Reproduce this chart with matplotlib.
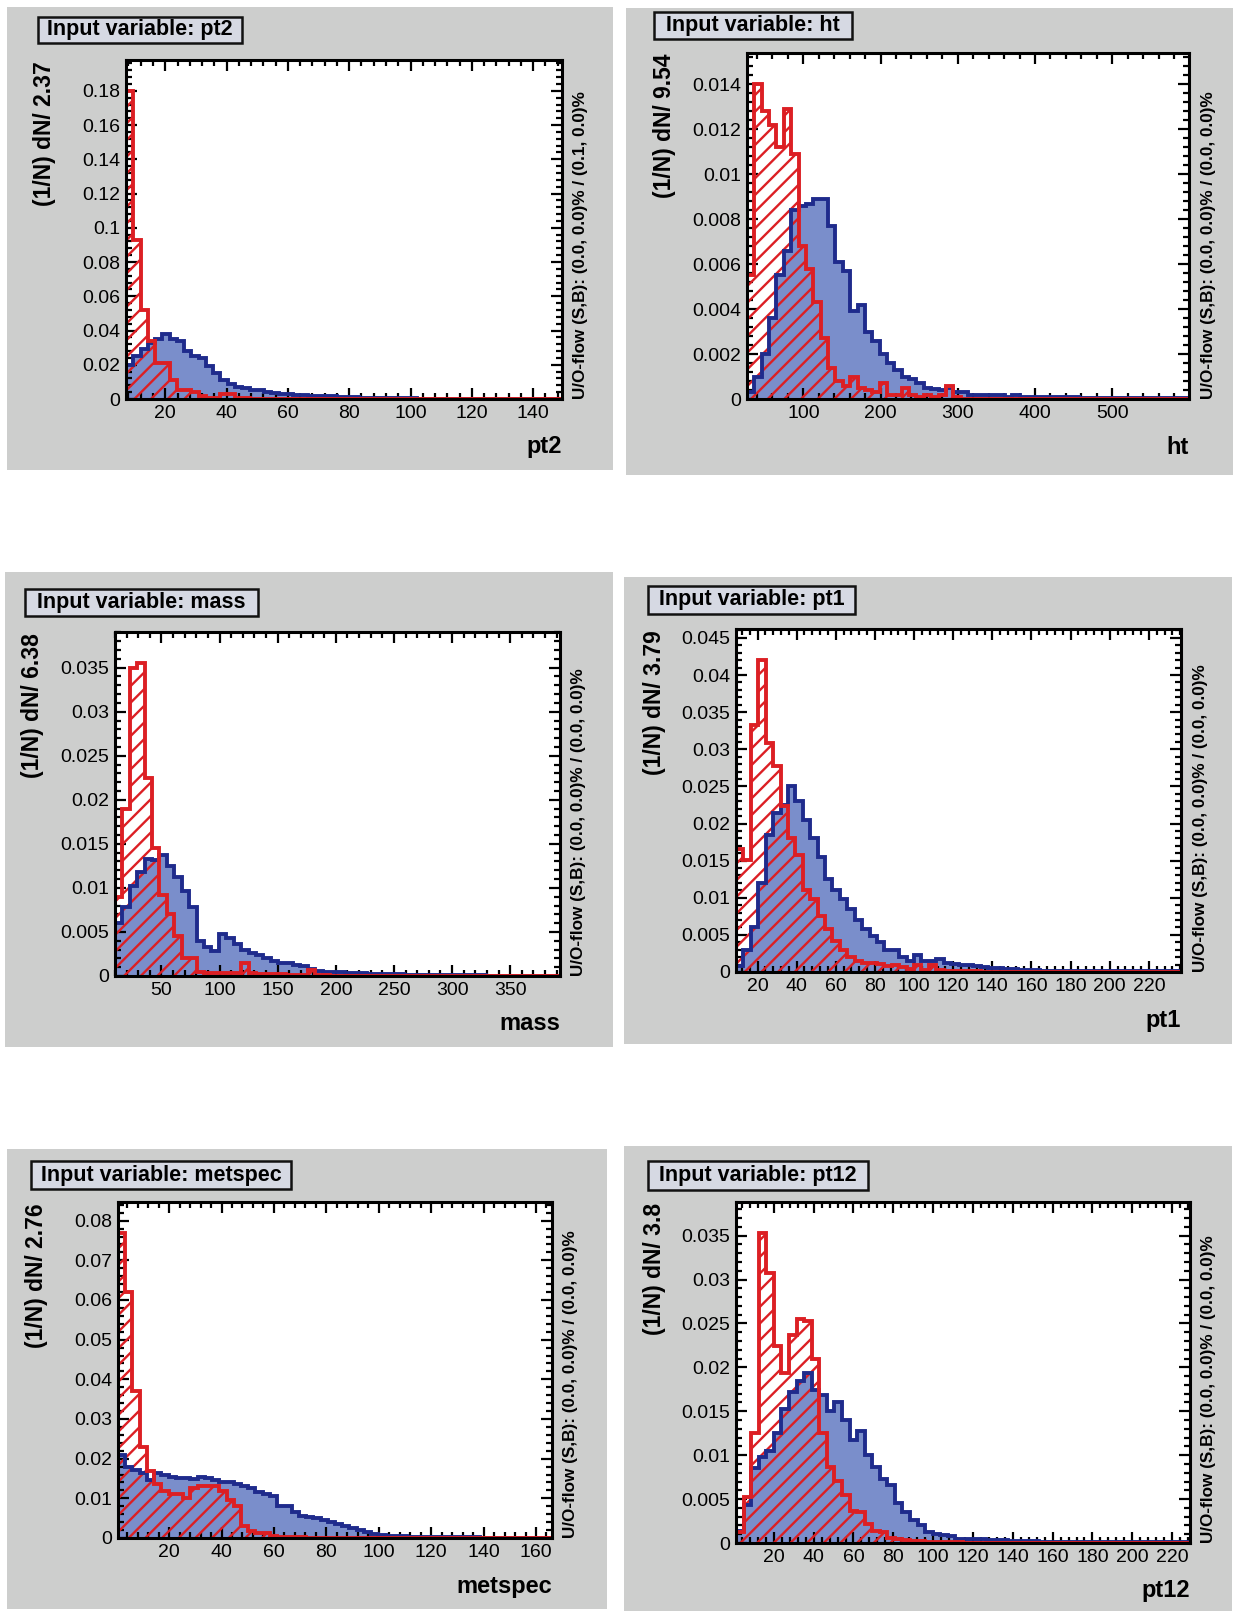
import numpy as np
import matplotlib
matplotlib.use("Agg")
import matplotlib.pyplot as plt
from matplotlib.patches import Rectangle
from matplotlib.ticker import MultipleLocator, AutoMinorLocator, FuncFormatter

plt.rcParams['font.family'] = ['Liberation Sans', 'DejaVu Sans']
plt.rcParams['hatch.linewidth'] = 1.7

W, H = 1238, 1611

# ---- data: 60 bins per variable, (1/N) dN per bin ----
pt2_xmin, pt2_width = 7.2, 2.37
pt2_sig = [0.020, 0.025, 0.029, 0.033, 0.035, 0.038, 0.035, 0.034, 0.028, 0.025,
           0.024, 0.019, 0.015, 0.011, 0.009, 0.007, 0.0065, 0.0055, 0.005, 0.004,
           0.0035, 0.003, 0.003, 0.0025, 0.0023, 0.002, 0.002, 0.0018, 0.0015, 0.0012,
           0.001, 0.0009, 0.0008, 0.0006, 0.0005, 0.0004, 0.0004, 0.0003, 0.0003, 0.0003,
           0.0002, 0.0002, 0.0002, 0.0002, 0.0002, 0.0002, 0.0001, 0.0001, 0.0001, 0.0001,
           0.0001, 0.0001, 0.0001, 0.0001, 0.0001, 0.0001, 0.0001, 0.0001, 0.0001, 0.0001]
pt2_bkg = [0.180, 0.093, 0.052, 0.034, 0.021, 0.021, 0.011, 0.005, 0.005, 0.004,
           0.0015, 0.0005, 0.0005, 0.003, 0.003, 0.0005, 0.0003, 0.0002, 0.0002, 0.0001,
           0.0001, 0.0001, 0.0001, 0.0001, 0.0001, 0, 0, 0, 0, 0,
           0, 0, 0, 0, 0, 0, 0, 0, 0, 0,
           0, 0, 0, 0, 0, 0, 0, 0, 0, 0,
           0, 0, 0, 0, 0, 0, 0, 0, 0, 0]

ht_xmin, ht_width = 27.0, 9.54
ht_sig = [0.0003, 0.001, 0.002, 0.0036, 0.0055, 0.0066, 0.0084, 0.0086, 0.0087, 0.0089,
          0.0089, 0.0077, 0.0061, 0.0057, 0.0039, 0.0042, 0.003, 0.0026, 0.002, 0.0016,
          0.0013, 0.001, 0.0009, 0.0007, 0.0005, 0.00045, 0.0004, 0.0005, 0.0003, 0.0003,
          0.0002, 0.0002, 0.0002, 0.0002, 0.0002, 0.0001, 0.0002, 0.0001, 0.0001, 0.0001,
          0.0001, 0.0001, 0.0001, 0.0001, 0.0001, 0.00005, 0.00005, 0.00005, 0.00005, 0.00005,
          0.00005, 0.00005, 0.00005, 0.00005, 0.00005, 0.00005, 0.00005, 0.00005, 0.00005, 0.00005]
ht_bkg = [0.0055, 0.0140, 0.0128, 0.0122, 0.0112, 0.0129, 0.0109, 0.0068, 0.0058, 0.0043,
          0.0027, 0.0014, 0.0008, 0.0006, 0.001, 0.0005, 0.0004, 0.0003, 0.0007, 0.0002,
          0.0002, 0.0005, 0.0002, 0.0001, 0.0002, 0.0001, 0.0002, 0.0006, 0.0001, 0,
          0, 0, 0, 0, 0, 0, 0, 0, 0, 0,
          0, 0, 0, 0, 0, 0, 0, 0, 0, 0,
          0, 0, 0, 0, 0, 0, 0, 0, 0, 0]

mass_xmin, mass_width = 10.0, 6.38
mass_sig = [0.006, 0.0078, 0.0102, 0.0118, 0.0133, 0.0132, 0.0137, 0.0125, 0.0112, 0.0097,
            0.0078, 0.0040, 0.0033, 0.0028, 0.0048, 0.0043, 0.0036, 0.0029, 0.0026, 0.0024,
            0.0021, 0.0017, 0.0015, 0.0015, 0.0012, 0.0011, 0.0008, 0.0006, 0.0005, 0.0004,
            0.0004, 0.0003, 0.0003, 0.0003, 0.0002, 0.0002, 0.0002, 0.0002, 0.0002, 0.0001,
            0.0001, 0.0001, 0.0001, 0.0001, 0.0001, 0.0001, 0.0001, 0.0001, 0.0001, 0.0001,
            0.00005, 0.00005, 0.00005, 0.00005, 0.00005, 0.00005, 0.00005, 0.00005, 0.00005, 0.00005]
mass_bkg = [0.009, 0.019, 0.035, 0.0355, 0.0225, 0.0145, 0.0092, 0.007, 0.0045, 0.002,
            0.002, 0.0004, 0.0003, 0.0003, 0.0003, 0.0003, 0.0003, 0.0015, 0.0003, 0.0002,
            0.0002, 0.0002, 0.0002, 0.0001, 0.0001, 0.0001, 0.0007, 0.0001, 0.0001, 0,
            0, 0, 0, 0, 0, 0, 0, 0, 0, 0,
            0, 0, 0, 0, 0, 0, 0, 0, 0, 0,
            0, 0, 0, 0, 0, 0, 0, 0, 0, 0]

pt1_xmin, pt1_width = 9.0, 3.79
pt1_sig = [0.0008, 0.003, 0.006, 0.012, 0.0185, 0.0214, 0.0225, 0.025, 0.023, 0.0205,
           0.018, 0.0155, 0.0125, 0.011, 0.0098, 0.0085, 0.007, 0.0058, 0.0048, 0.004,
           0.003, 0.003, 0.002, 0.0015, 0.0023, 0.0015, 0.0015, 0.0018, 0.0012, 0.0011,
           0.001, 0.0009, 0.0008, 0.0007, 0.0005, 0.0005, 0.0004, 0.0004, 0.0003, 0.0003,
           0.0003, 0.0002, 0.0002, 0.0002, 0.0002, 0.0002, 0.0002, 0.0001, 0.0001, 0.0002,
           0.0001, 0.0001, 0.0001, 0.0001, 0.0001, 0.0001, 0.0001, 0.0001, 0.0001, 0.0001]
pt1_bkg = [0.0166, 0.0151, 0.0333, 0.042, 0.0308, 0.0277, 0.0223, 0.018, 0.0158, 0.011,
           0.0099, 0.0075, 0.0058, 0.0042, 0.003, 0.002, 0.0015, 0.0012, 0.0012, 0.0011,
           0.0008, 0.001, 0.0007, 0.0004, 0.0009, 0.0003, 0.001, 0.0003, 0.0002, 0.0002,
           0.0001, 0.0001, 0.0001, 0, 0, 0, 0, 0, 0, 0,
           0, 0, 0, 0, 0, 0, 0, 0, 0, 0,
           0, 0, 0, 0, 0, 0, 0, 0, 0, 0]

met_xmin, met_width = 0.5, 2.76
met_sig = [0.021, 0.0178, 0.0172, 0.0165, 0.0145, 0.0165, 0.016, 0.0155, 0.0152, 0.015,
           0.0148, 0.0155, 0.015, 0.0145, 0.014, 0.0142, 0.0135, 0.0132, 0.0125, 0.0115,
           0.0112, 0.0105, 0.008, 0.008, 0.0065, 0.0055, 0.0052, 0.005, 0.0045, 0.004,
           0.0035, 0.003, 0.0025, 0.002, 0.0015, 0.001, 0.0008, 0.0006, 0.0005, 0.0004,
           0.0003, 0.0003, 0.0002, 0.0002, 0.0002, 0.0002, 0.0002, 0.0002, 0.0002, 0.0002,
           0.0001, 0.0001, 0.0001, 0.0001, 0.0001, 0.0001, 0.0001, 0.0001, 0.0001, 0.0001]
met_bkg = [0.077, 0.062, 0.037, 0.023, 0.017, 0.0135, 0.0118, 0.011, 0.011, 0.010,
           0.0125, 0.013, 0.013, 0.013, 0.0118, 0.0097, 0.008, 0.003, 0.0017, 0.0013,
           0.0013, 0.0005, 0.0003, 0.0002, 0.0002, 0.0002, 0.0001, 0.0001, 0.0001, 0.0001,
           0, 0, 0, 0, 0, 0, 0, 0, 0, 0,
           0, 0, 0, 0, 0, 0, 0, 0, 0, 0,
           0, 0, 0, 0, 0, 0, 0, 0, 0, 0]

pt12_xmin, pt12_width = 1.0, 3.8
pt12_sig = [0.0014, 0.0043, 0.0085, 0.0098, 0.0105, 0.0125, 0.0153, 0.0172, 0.0185, 0.0194,
            0.0174, 0.0169, 0.015, 0.016, 0.014, 0.0117, 0.0127, 0.010, 0.0087, 0.0073,
            0.0066, 0.0045, 0.0035, 0.0026, 0.002, 0.0012, 0.001, 0.0009, 0.0008, 0.0005,
            0.0005, 0.0004, 0.0004, 0.0003, 0.0003, 0.0003, 0.0002, 0.0002, 0.0002, 0.0002,
            0.0001, 0.0001, 0.0001, 0.0001, 0.0001, 0.0001, 0.0001, 0.0001, 0.0001, 0.0001,
            0.0001, 0.0001, 0.0001, 0.0001, 0.0001, 0.0001, 0.0001, 0.0001, 0.0001, 0.0001]
pt12_bkg = [0.0012, 0.0052, 0.0125, 0.0353, 0.0308, 0.0224, 0.0194, 0.0237, 0.0255, 0.0253,
            0.021, 0.0125, 0.0087, 0.0071, 0.0055, 0.0037, 0.0035, 0.0022, 0.0014, 0.0012,
            0.0006, 0.0004, 0.0003, 0.0002, 0.0002, 0.0001, 0.0001, 0.0001, 0.0001, 0.0001,
            0, 0, 0, 0, 0, 0, 0, 0, 0, 0,
            0, 0, 0, 0, 0, 0, 0, 0, 0, 0,
            0, 0, 0, 0, 0, 0, 0, 0, 0, 0]

uoflow_pt2 = "U/O-flow (S,B): (0.0, 0.0)% / (0.1, 0.0)%"
uoflow_other = "U/O-flow (S,B): (0.0, 0.0)% / (0.0, 0.0)%"

# panel layout in pixels: grey box, title box, axes box (x0, y0, x1, y1)
panels = [
    dict(name="pt2", xmin=pt2_xmin, width=pt2_width, sig=pt2_sig, bkg=pt2_bkg,
         xmaj=20, ymaj=0.02, uo=uoflow_pt2,
         grey=(7, 7, 613, 470), title=(38, 17, 242, 43), ax=(126, 60, 562, 399)),
    dict(name="ht", xmin=ht_xmin, width=ht_width, sig=ht_sig, bkg=ht_bkg,
         xmaj=100, ymaj=0.002, uo=uoflow_other,
         grey=(626, 8, 1233, 475), title=(654, 12, 852, 39), ax=(747, 53, 1189, 399)),
    dict(name="mass", xmin=mass_xmin, width=mass_width, sig=mass_sig, bkg=mass_bkg,
         xmaj=50, ymaj=0.005, uo=uoflow_other,
         grey=(5, 572, 613, 1047), title=(25, 589, 258, 616), ax=(115, 632, 560, 976)),
    dict(name="pt1", xmin=pt1_xmin, width=pt1_width, sig=pt1_sig, bkg=pt1_bkg,
         xmaj=20, ymaj=0.005, uo=uoflow_other,
         grey=(624, 577, 1232, 1044), title=(648, 586, 855, 614), ax=(736, 629, 1181, 972)),
    dict(name="metspec", xmin=met_xmin, width=met_width, sig=met_sig, bkg=met_bkg,
         xmaj=20, ymaj=0.01, uo=uoflow_other,
         grey=(7, 1149, 607, 1609), title=(31, 1161, 291, 1189), ax=(118, 1202, 552, 1538)),
    dict(name="pt12", xmin=pt12_xmin, width=pt12_width, sig=pt12_sig, bkg=pt12_bkg,
         xmaj=20, ymaj=0.005, uo=uoflow_other,
         grey=(624, 1146, 1232, 1611), title=(648, 1161, 868, 1190), ax=(736, 1202, 1190, 1543)),
]

GREY = '#cdcecd'
TITLE_BG = '#d6d9e3'
SIG_FILL = '#7a8ecb'
SIG_LINE = '#1f2b8c'
BKG = '#dc1f24'


def rect(box):
    x0, y0, x1, y1 = box
    return [x0 / W, 1 - y1 / H, (x1 - x0) / W, (y1 - y0) / H]


fig = plt.figure(figsize=(W / 100, H / 100), dpi=100)
fig.patch.set_facecolor('white')

for p in panels:
    g = rect(p['grey'])
    fig.add_artist(Rectangle((g[0], g[1]), g[2], g[3], transform=fig.transFigure,
                             facecolor=GREY, edgecolor='none', zorder=-10))
    t = rect(p['title'])
    fig.add_artist(Rectangle((t[0], t[1]), t[2], t[3], transform=fig.transFigure,
                             facecolor=TITLE_BG, edgecolor='#111111', linewidth=1.8, zorder=5))
    fig.text(t[0] + t[2] / 2, t[1] + t[3] / 2, "Input variable: " + p['name'],
             ha='center', va='center', fontsize=15.5, weight='bold', zorder=6)

    ax = fig.add_axes(rect(p['ax']))
    ax.set_facecolor('white')
    sig = np.array(p['sig'])
    bkg = np.array(p['bkg'])
    edges = p['xmin'] + p['width'] * np.arange(len(sig) + 1)

    ax.stairs(sig, edges, fill=True, facecolor=SIG_FILL, edgecolor='none', zorder=1)
    ax.stairs(bkg, edges, fill=True, facecolor='none', edgecolor=BKG,
              hatch='//', linewidth=0, zorder=2)
    ax.stairs(sig, edges, baseline=0, color=SIG_LINE, linewidth=2.8, zorder=3)
    ax.stairs(bkg, edges, baseline=0, color=BKG, linewidth=2.8, zorder=4)

    ymax = 1.1 * max(sig.max(), bkg.max())
    ax.set_xlim(edges[0], edges[-1])
    ax.set_ylim(0, ymax)

    ax.xaxis.set_major_locator(MultipleLocator(p['xmaj']))
    ax.xaxis.set_minor_locator(AutoMinorLocator(5))
    ax.yaxis.set_major_locator(MultipleLocator(p['ymaj']))
    ax.yaxis.set_minor_locator(AutoMinorLocator(5))
    ax.yaxis.set_major_formatter(FuncFormatter(lambda v, pos: '%g' % round(v, 6)))
    ax.xaxis.set_major_formatter(FuncFormatter(lambda v, pos: '%g' % round(v, 6)))
    ax.tick_params(which='both', direction='in', top=True, right=True,
                   labelsize=14, width=1.6, colors='black')
    ax.tick_params(which='major', length=8, pad=4)
    ax.tick_params(which='minor', length=4)
    for s in ax.spines.values():
        s.set_linewidth(2.2)
        s.set_zorder(10)

    x0, y0, x1, y1 = p['ax']
    fig.text((x0 - 82) / W, 1 - (y0 + 1) / H, "(1/N) dN/ %g" % p['width'],
             rotation=90, ha='center', va='top', fontsize=16.5, weight='bold')
    fig.text(x1 / W, 1 - (y1 + 48) / H, p['name'],
             ha='right', va='center', fontsize=17, weight='bold')
    fig.text((x1 + 19) / W, 1 - y1 / H, p['uo'],
             rotation=90, ha='center', va='bottom', fontsize=12.3, weight='bold')

fig.savefig("out.png", dpi=100, facecolor='white')
